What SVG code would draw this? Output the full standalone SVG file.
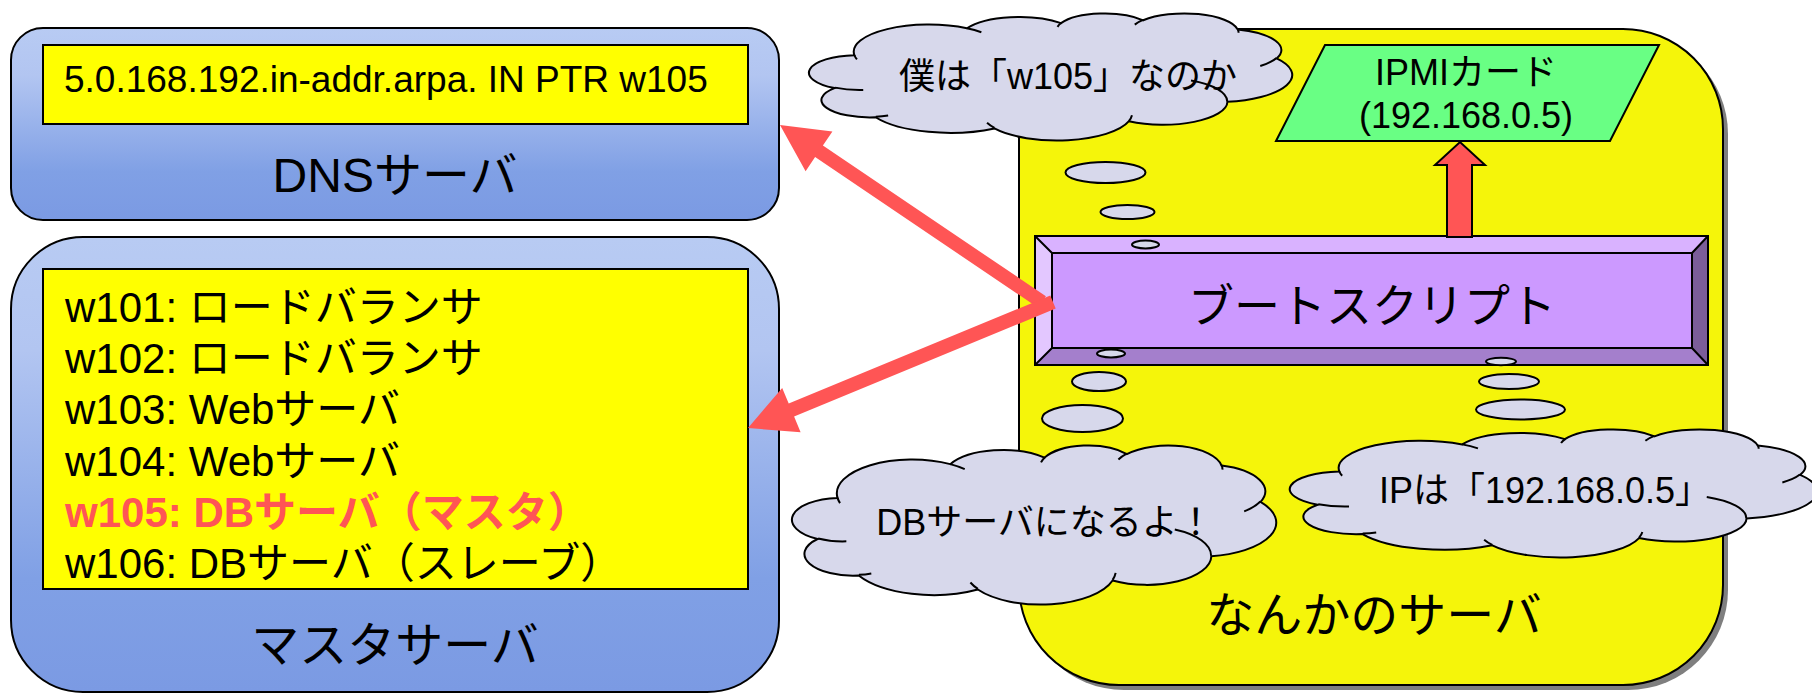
<svg xmlns="http://www.w3.org/2000/svg" xmlns:xlink="http://www.w3.org/1999/xlink" width="1812" height="698" viewBox="0 0 1812 698">
  <defs>
    <linearGradient id="blueFill" x1="0" y1="0" x2="0" y2="1">
      <stop offset="0" stop-color="#b8cbf3"/>
      <stop offset="0.25" stop-color="#b2c5f1"/>
      <stop offset="0.75" stop-color="#80a0e5"/>
      <stop offset="1" stop-color="#7b9ae3"/>
    </linearGradient>
    <!-- cloud outline in a 0..100 box -->
    <path id="cloudBody" vector-effect="non-scaling-stroke" d="M 9.03 33.26 A 15.63 21.27 0 0 1 32.42 12.04 A 12.34 16.82 0 0 1 51.98 7.94 A 10.10 13.76 0 0 1 69.06 5.74 A 11.24 15.27 0 0 1 88.70 12.90 A 12.34 16.84 0 0 1 96.80 35.78 A 15.68 21.34 0 0 1 86.58 69.91 A 13.39 18.21 0 0 1 66.10 85.21 A 15.63 21.33 0 0 1 38.14 90.88 A 17.87 24.41 0 0 1 13.43 82.10 A 10.09 13.70 0 0 1 4.89 59.13 A 10.06 13.76 0 0 1 9.03 33.26 Z"/>
    <!-- short inner arcs that separate the puffs -->
    <path id="cloudArcs" vector-effect="non-scaling-stroke" fill="none" d="M 10.86 60.60 A 10.06 13.76 0 0 1 5.00 58.75 M 16.04 80.78 A 10.09 13.70 0 0 1 13.47 81.67 M 38.14 90.49 A 15.63 21.33 0 0 1 36.60 86.46 M 66.73 80.44 A 15.63 21.33 0 0 1 66.11 84.86 M 79.00 53.13 A 13.39 18.21 0 0 1 86.53 69.65 M 96.75 35.54 A 12.34 16.84 0 0 1 93.40 41.74 M 88.71 12.56 A 11.24 15.27 0 0 1 88.89 15.49 M 67.31 9.15 A 11.24 15.27 0 0 1 69.03 5.42 M 51.25 10.93 A 10.10 13.76 0 0 1 52.08 7.71 M 32.41 12.02 A 15.63 21.27 0 0 1 35.42 15.14 M 9.55 36.55 A 15.63 21.27 0 0 1 9.03 33.26"/>
  </defs>
  <style>
    text { font-family: "Liberation Sans", "Noto Sans CJK JP", sans-serif; fill: #000; }
    .box { fill: url(#blueFill); stroke: #000; stroke-width: 2; }
    .note { fill: #ffff00; stroke: #000; stroke-width: 2; }
    .t36 { font-size: 36px; }
    .t37 { font-size: 37px; }
    .t42 { font-size: 42px; }
    .t48 { font-size: 48px; }
    .mid { text-anchor: middle; }
    .hot { fill: #ff5555; font-weight: bold; }
    .cloud { fill: #d7d8eb; stroke: #000; stroke-width: 2; }
    .bubble { fill: #d7d8eb; stroke: #000; stroke-width: 2; }
    .edge { stroke: #000; stroke-width: 2; stroke-linejoin: miter; }
    .arrow { fill: #ff5555; }
  </style>

  <!-- DNS server -->
  <g id="dns-server">
    <rect class="box" x="11" y="28" width="768" height="192" rx="32" ry="32"/>
    <rect class="note" x="43" y="45" width="705" height="79"/>
    <text class="t37" x="64" y="92">5.0.168.192.in-addr.arpa. IN PTR w105</text>
    <text class="t48 mid" x="395" y="192">DNSサーバ</text>
  </g>

  <!-- master server with host list -->
  <g id="master-server">
    <rect class="box" x="11" y="237" width="768" height="455" rx="72" ry="72"/>
    <rect class="note" x="43" y="269" width="705" height="320"/>
    <text class="t42" x="65" y="322">w101: ロードバランサ</text>
    <text class="t42" x="65" y="373">w102: ロードバランサ</text>
    <text class="t42" x="65" y="424">w103: Webサーバ</text>
    <text class="t42" x="65" y="476">w104: Webサーバ</text>
    <text class="t42 hot" x="65" y="527">w105: DBサーバ（マスタ）</text>
    <text class="t42" x="65" y="578">w106: DBサーバ（スレーブ）</text>
    <text class="t48 mid" x="395" y="662">マスタサーバ</text>
  </g>

  <!-- the booting server -->
  <g id="some-server">
    <rect x="1024" y="34" width="704" height="656" rx="100" ry="100" fill="#7f7f7f"/>
    <rect x="1019" y="29" width="704" height="656" rx="100" ry="100" fill="#f5f50a" stroke="#000" stroke-width="2"/>
    <text class="t48 mid" x="1374" y="632">なんかのサーバ</text>
  </g>

  <!-- IPMI card -->
  <g id="ipmi-card">
    <polygon points="1325,45 1659,45 1610,141 1276,141" fill="#69ff84" stroke="#000" stroke-width="2"/>
    <text class="t36 mid" x="1466" y="85">IPMIカード</text>
    <text class="t36 mid" x="1466" y="128">(192.168.0.5)</text>
  </g>

  <!-- boot script, bevelled panel -->
  <g id="boot-script">
    <polygon points="1035,236 1708,236 1692,253 1052,253" fill="#d9b2ff"/>
    <polygon points="1035,236 1052,253 1052,348 1035,365" fill="#e3c7ff"/>
    <polygon points="1035,365 1052,348 1692,348 1708,365" fill="#a47fcc"/>
    <polygon points="1708,236 1708,365 1692,348 1692,253" fill="#7b5d99"/>
    <rect x="1052" y="253" width="640" height="95" fill="#cc99ff"/>
    <path class="edge" fill="none" d="M1035 236 L1052 253 M1708 236 L1692 253 M1035 365 L1052 348 M1708 365 L1692 348"/>
    <rect class="edge" fill="none" x="1052" y="253" width="640" height="95"/>
    <rect class="edge" fill="none" x="1035" y="236" width="673" height="129"/>
    <text class="mid" style="font-size:46px" x="1372" y="322">ブートスクリプト</text>
  </g>

  <!-- thought bubbles rising from the boot script -->
  <g id="bubbles">
    <ellipse class="bubble" cx="1105.5" cy="172.5" rx="40" ry="10.5"/>
    <ellipse class="bubble" cx="1127.5" cy="212" rx="27" ry="7"/>
    <ellipse class="bubble" cx="1145.5" cy="244.5" rx="13.5" ry="4"/>
    <ellipse class="bubble" cx="1111" cy="353.5" rx="14" ry="4"/>
    <ellipse class="bubble" cx="1099" cy="381.5" rx="27" ry="9.5"/>
    <ellipse class="bubble" cx="1082.5" cy="418.5" rx="40.5" ry="13.5"/>
    <ellipse class="bubble" cx="1501" cy="361.5" rx="15" ry="3.7"/>
    <ellipse class="bubble" cx="1509" cy="381.5" rx="30" ry="7.5"/>
    <ellipse class="bubble" cx="1520.5" cy="409.5" rx="44.5" ry="10"/>
  </g>

  <!-- thought clouds -->
  <g id="cloud-whoami">
    <g transform="translate(811,13) scale(4.81,1.27)">
      <use xlink:href="#cloudBody" class="cloud"/>
      <use xlink:href="#cloudArcs" class="cloud" style="fill:none"/>
    </g>
    <text class="t36 mid" x="1068" y="89">僕は「w105」なのか</text>
  </g>

  <g id="cloud-db">
    <g transform="translate(794,445) scale(4.82,1.59)">
      <use xlink:href="#cloudBody" class="cloud"/>
      <use xlink:href="#cloudArcs" class="cloud" style="fill:none"/>
    </g>
    <text class="t36 mid" x="1045" y="535">DBサーバになるよ！</text>
  </g>

  <g id="cloud-ip">
    <g transform="translate(1292,429) scale(5.25,1.28)">
      <use xlink:href="#cloudBody" class="cloud"/>
      <use xlink:href="#cloudArcs" class="cloud" style="fill:none"/>
    </g>
    <text class="t36 mid" x="1545" y="503">IPは「192.168.0.5」</text>
  </g>

  <!-- connectors -->
  <g id="connectors">
    <polygon class="arrow" points="1447,237 1447,165 1435,165 1460,142 1485,165 1472,165 1472,237" stroke="#000" stroke-width="2"/>
    <polygon class="arrow" points="1045.9,296.2 822.9,145.5 832.4,131.4 780,125 805.6,171.2 815.1,157.1 1038.1,307.8"/>
    <polygon class="arrow" points="1050.3,295.5 788.7,403.6 782.2,387.9 748,428 800.6,432.3 794.1,416.6 1055.7,308.5"/>
  </g>
</svg>
